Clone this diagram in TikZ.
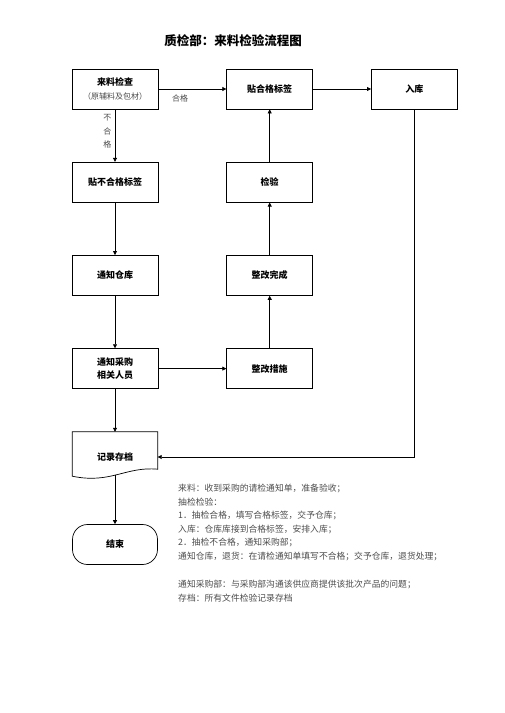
\documentclass[tikz,border=0pt]{standalone}
\usepackage{fontspec}
\setmainfont{Noto Sans CJK SC}
\usepackage{tikz}
\usetikzlibrary{arrows.meta, positioning, calc}

\begin{document}
\begin{tikzpicture}[x=1pt, y=-1pt,
    node distance=52.5pt and 68pt,
    box/.style={draw, line width=0.7pt, minimum width=86pt, minimum height=40pt, align=center, font=\fontsize{9}{13.5}\selectfont\bfseries},
    docbox/.style={minimum width=85pt, minimum height=50pt, align=center, font=\fontsize{9}{13.5}\selectfont\bfseries},
    endbox/.style={draw, line width=0.7pt, rounded corners=15pt, minimum width=85pt, minimum height=40pt, font=\fontsize{9}{13.5}\selectfont\bfseries},
    arr/.style={-{Triangle[length=4pt, width=4pt]}, line width=0.7pt},
    note/.style={font=\fontsize{8}{13.5}\selectfont, text=black!70}
]
\useasboundingbox (0,0) rectangle (504,713);

% Title
\node[font=\fontsize{12.5}{15}\selectfont\bfseries] (title) at (233,41) {质检部：来料检验流程图};

% Top row
\node[box] (l1) at (115,89) {来料检查\\{\mdseries\fontsize{8}{13}\selectfont\color{black!70}（原辅料及包材）}};
\node[box, right=of l1] (m1) {贴合格标签};
\node[box, right=58pt of m1] (r1) {入库};

% Left column
\node[box, below=of l1] (l2) {贴不合格标签};
\node[box, below=of l2] (l3) {通知仓库};
\node[box, below=of l3] (l4) {通知采购\\相关人员};
\node[docbox] (doc) at (115,457) {记录存档};
\node[endbox] (fin) at (115,544.5) {结束};

% Middle column
\node[box, below=of m1] (m2) {检验};
\node[box, below=of m2] (m3) {整改完成};
\node[box, below=of m3] (m4) {整改措施};

% Document shape
\draw[line width=0.7pt] (doc.north west) -- (doc.north east) -- ([yshift=13pt]doc.south east)
  .. controls ([xshift=-32pt, yshift=16pt]doc.south east) and ([xshift=-47pt, yshift=-2pt]doc.south east) .. ([yshift=6pt]doc.south west)
  coordinate[pos=0.5] (docbot) -- cycle;

% Connectors
\draw[arr] (l1) -- node[note, pos=0.32, below, yshift=-2pt] {合格} (m1);
\draw[arr] (m1) -- (r1);
\draw[arr] (l1) -- node[note, pos=0.42, left, align=center] {不\\合\\格} (l2);
\draw[arr] (l2) -- (l3); \draw[arr] (l3) -- (l4); \draw[arr] (l4) -- (doc.north);
\draw[arr] (l4) -- (m4);
\draw[arr] (m4) -- (m3); \draw[arr] (m3) -- (m2); \draw[arr] (m2) -- (m1);
\draw[arr] (r1) |- (doc.east);
\draw[arr] (docbot -| fin.north) -- (fin);

% Notes
\node[note, anchor=north west, inner sep=0pt, align=left, font=\fontsize{8.8}{13.5}\selectfont] (notes) at (178,484) {来料：收到采购的请检通知单，准备验收；\\
抽检检验：\\
1．抽检合格，填写合格标签，交予仓库；\\
入库：仓库库接到合格标签，安排入库；\\
2．抽检不合格，通知采购部；\\
通知仓库，退货：在请检通知单填写不合格；交予仓库，退货处理；\\[15pt]
通知采购部：与采购部沟通该供应商提供该批次产品的问题；\\
存档：所有文件检验记录存档};

\end{tikzpicture}
\end{document}
